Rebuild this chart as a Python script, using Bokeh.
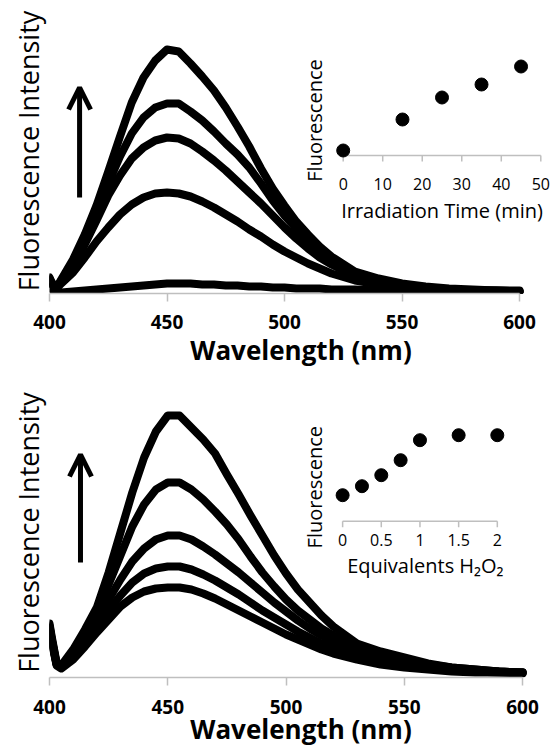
from math import pi
from bokeh.plotting import figure
from bokeh.models import (Range1d, FixedTicker, Arrow, OpenHead, Label, LabelSet,
                          ColumnDataSource)
from bokeh.layouts import column
from bokeh.embed import file_html
from bokeh.resources import INLINE
from bokeh.core.properties import value

FONT = "Open Sans"

# ---------------- data ----------------
WAVELENGTH = [400, 401, 403, 405, 410, 415, 420, 425, 430, 435, 440, 445, 450, 455,
              460, 465, 470, 475, 480, 485, 490, 495, 500, 505, 510, 515, 520, 530,
              540, 550, 560, 570, 580, 590, 600]

# top panel: spectra at increasing irradiation time (a.u.)
TOP_SPECTRA = [
    [16, 11, 6, 14, 34, 59, 88, 122, 157, 191, 216, 233, 244, 242, 230, 217, 203, 186,
     167, 147, 125, 105, 88, 72, 59, 47, 37, 22, 15, 10, 7, 5, 4, 3, 3],
    [15, 10, 5, 13, 31, 54, 80, 110, 137, 160, 176, 186, 190, 190, 182, 173, 162, 150,
     139, 126, 110, 93, 78, 65, 53, 43, 34, 20, 13, 9, 6, 4, 3, 3, 2],
    [14, 9, 5, 12, 28, 49, 73, 98, 118, 135, 146, 153, 156, 155, 150, 142, 133, 123,
     112, 101, 90, 78, 66, 55, 45, 36, 29, 17, 11, 7, 5, 4, 3, 3, 2],
    [13, 9, 5, 10, 21, 36, 52, 66, 79, 89, 96, 100, 101, 100, 97, 92, 86, 79,
     72, 64, 57, 49, 42, 36, 30, 25, 20, 13, 9, 6, 4, 3, 3, 2, 2],
    [6, 4, 2, 1, 2, 3, 4, 5, 6, 7, 8, 9, 10, 10, 10, 9, 9, 8,
     8, 7, 7, 6, 6, 5, 5, 5, 4, 4, 3, 3, 3, 2, 2, 2, 2],
]

# bottom panel: spectra at increasing equivalents of H2O2 (a.u.)
BOTTOM_SPECTRA = [
    [54, 40, 15, 12, 28, 48, 70, 105, 145, 185, 220, 246, 262, 262, 250, 238, 224, 203,
     183, 162, 142, 122, 104, 88, 75, 62, 51, 34, 26, 20, 14, 10, 8, 6, 5],
    [52, 38, 14, 11, 25, 43, 66, 93, 122, 151, 173, 188, 195, 195, 188, 178, 166, 153,
     138, 121, 105, 91, 78, 67, 58, 49, 42, 31, 23, 17, 13, 10, 8, 6, 5],
    [50, 37, 13, 10, 22, 38, 57, 78, 98, 116, 129, 138, 142, 142, 138, 131, 123, 114,
     105, 95, 85, 75, 66, 57, 49, 42, 36, 26, 19, 14, 11, 8, 7, 6, 5],
    [50, 36, 13, 10, 20, 34, 50, 67, 82, 95, 104, 109, 111, 111, 108, 103, 97, 90,
     83, 75, 67, 60, 53, 46, 40, 34, 29, 21, 16, 12, 9, 7, 6, 5, 5],
    [49, 35, 12, 9, 18, 31, 45, 58, 71, 80, 86, 89, 90, 90, 88, 84, 79, 73,
     67, 61, 55, 49, 43, 38, 33, 28, 24, 18, 13, 10, 8, 6, 5, 5, 4],
]

X_TICKS = [400, 450, 500, 550, 600]

# inset 1: fluorescence vs irradiation time
TIME_MIN = [0, 15, 25, 35, 45]
TIME_FLUOR = [5, 36, 58, 71, 89]
TIME_TICKS = [0, 10, 20, 30, 40, 50]
TIME_TICK_LABELS = ["0", "10", "20", "30", "40", "50"]

# inset 2: fluorescence vs equivalents H2O2
EQUIV = [0, 0.25, 0.5, 0.75, 1.0, 1.5, 2.0]
EQUIV_FLUOR = [26, 35, 46, 61, 81, 86, 86]
EQUIV_TICKS = [0, 0.5, 1, 1.5, 2]
EQUIV_TICK_LABELS = ["0", "0.5", "1", "1.5", "2"]

AXIS_GRAY = "#bfbfbf"
WIDTH = 552


def main_panel(spectra, height, frame_h, border_top, border_left, px_per_nm,
               label_standoff, title_standoff):
    frame_w = WIDTH - border_left
    x_end = 400 + frame_w / px_per_nm
    p = figure(width=WIDTH, height=height, x_range=Range1d(400, x_end),
               y_range=Range1d(0, frame_h), output_backend="svg",
               toolbar_location=None, min_border=0)
    p.min_border_left = border_left
    p.min_border_right = 0
    p.min_border_top = border_top
    p.min_border_bottom = height - frame_h - border_top
    p.grid.visible = False
    p.outline_line_color = None
    p.background_fill_color = "white"
    p.border_fill_color = "white"

    for ys in spectra:
        p.line(WAVELENGTH, ys, line_width=8, color="black",
               line_join="round", line_cap="round")

    xa = p.xaxis[0]
    xa.ticker = FixedTicker(ticks=X_TICKS)
    xa.bounds = (400, 600)
    xa.axis_line_color = AXIS_GRAY
    xa.axis_line_width = 1.5
    xa.major_tick_line_color = AXIS_GRAY
    xa.major_tick_line_width = 1.5
    xa.major_tick_out = 8
    xa.major_tick_in = 0
    xa.minor_tick_line_color = None
    xa.major_label_text_font = FONT
    xa.major_label_text_font_size = "19px"
    xa.major_label_text_font_style = "bold"
    xa.major_label_text_color = "black"
    xa.major_label_standoff = label_standoff
    xa.axis_label = "Wavelength (nm)"
    xa.axis_label_text_font = FONT
    xa.axis_label_text_font_size = "26px"
    xa.axis_label_text_font_style = "bold"
    xa.axis_label_text_color = "black"
    xa.axis_label_standoff = title_standoff

    ya = p.yaxis[0]
    ya.ticker = FixedTicker(ticks=[])
    ya.axis_line_color = None
    ya.major_tick_line_color = None
    ya.minor_tick_line_color = None
    ya.major_label_text_font_size = "0px"
    ya.axis_label = "Fluorescence Intensity"
    ya.axis_label_text_font = FONT
    ya.axis_label_text_font_size = "27px"
    ya.axis_label_text_font_style = "normal"
    ya.axis_label_text_color = "black"
    ya.axis_label_standoff = 3
    return p, frame_w, frame_h


def add_inset(p, frame_left_px, frame_w, frame_h, axis_from_bottom_px,
              x0_px, units_px, xs, ys, ticks, tick_labels, title, title_x,
              tick_label_dy, title_dy, ylabel_x_px, ylabel_y, title_size):
    # inset coordinate system: x in inset units, y in pixels above inset axis
    ix_start = -(x0_px - frame_left_px) / units_px
    ix_end = ix_start + frame_w / units_px
    iy_start = -axis_from_bottom_px
    iy_end = iy_start + frame_h
    p.extra_x_ranges = {"ix": Range1d(ix_start, ix_end)}
    p.extra_y_ranges = {"iy": Range1d(iy_start, iy_end)}

    p.segment(x0=[ticks[0]], y0=[0], x1=[ticks[-1]], y1=[0], color=AXIS_GRAY,
              line_width=1.5, x_range_name="ix", y_range_name="iy")
    p.segment(x0=ticks, y0=[0] * len(ticks), x1=ticks, y1=[-6] * len(ticks),
              color=AXIS_GRAY, line_width=1.5, x_range_name="ix", y_range_name="iy")
    p.scatter(xs, ys, size=13, color="black", x_range_name="ix", y_range_name="iy")

    src = ColumnDataSource(dict(x=ticks, y=[tick_label_dy] * len(ticks), t=tick_labels))
    p.add_layout(LabelSet(x="x", y="y", text="t", source=src, x_range_name="ix",
                          y_range_name="iy", text_align="center",
                          text_baseline="middle", text_font=value(FONT),
                          text_font_size="16px", text_color="black"))
    p.add_layout(Label(x=title_x, y=title_dy, text=title, x_range_name="ix",
                       y_range_name="iy", text_align="center", text_baseline="middle",
                       text_font=FONT, text_font_size=title_size, text_color="black"))
    ylx = (ylabel_x_px - x0_px) / units_px
    p.add_layout(Label(x=ylx, y=ylabel_y, text="Fluorescence", angle=pi / 2,
                       x_range_name="ix", y_range_name="iy", text_align="center",
                       text_baseline="middle", text_font=FONT,
                       text_font_size="20px", text_color="black"))


# ---------------- top panel (page px: frame 49..552 x 8..293) ----------------
TOP_H = 376
p1, fw1, fh1 = main_panel(TOP_SPECTRA, height=TOP_H, frame_h=285, border_top=8,
                          border_left=49, px_per_nm=2.35, label_standoff=13,
                          title_standoff=0)
p1.add_layout(Arrow(end=OpenHead(size=22, line_width=5, line_color="black"),
                    x_start=412.8, y_start=96, x_end=412.8, y_end=206,
                    line_width=5, line_color="black"))
add_inset(p1, frame_left_px=49, frame_w=fw1, frame_h=fh1, axis_from_bottom_px=138,
          x0_px=342.7, units_px=3.952, xs=TIME_MIN, ys=TIME_FLUOR,
          ticks=TIME_TICKS, tick_labels=TIME_TICK_LABELS,
          title="Irradiation Time (min)", title_x=25, tick_label_dy=-28,
          title_dy=-55, ylabel_x_px=314, ylabel_y=35, title_size="20px")

# ---------------- bottom panel (page px: frame 48..552 x 387..677) ----------------
BOT_H = 753 - TOP_H
p2, fw2, fh2 = main_panel(BOTTOM_SPECTRA, height=BOT_H, frame_h=290,
                          border_top=387 - TOP_H, border_left=48, px_per_nm=2.37,
                          label_standoff=14, title_standoff=-6)
p2.add_layout(Arrow(end=OpenHead(size=22, line_width=5, line_color="black"),
                    x_start=413.1, y_start=115, x_end=413.1, y_end=223,
                    line_width=5, line_color="black"))
add_inset(p2, frame_left_px=48, frame_w=fw2, frame_h=fh2, axis_from_bottom_px=156.3,
          x0_px=341.7, units_px=77.5, xs=EQUIV, ys=EQUIV_FLUOR,
          ticks=EQUIV_TICKS, tick_labels=EQUIV_TICK_LABELS,
          title="Equivalents H\u2082O\u2082", title_x=1.07, tick_label_dy=-18.5,
          title_dy=-44, ylabel_x_px=314, ylabel_y=34, title_size="20px")

layout = column(p1, p2, spacing=0)
open("out.html", "w").write(file_html(layout, INLINE))
